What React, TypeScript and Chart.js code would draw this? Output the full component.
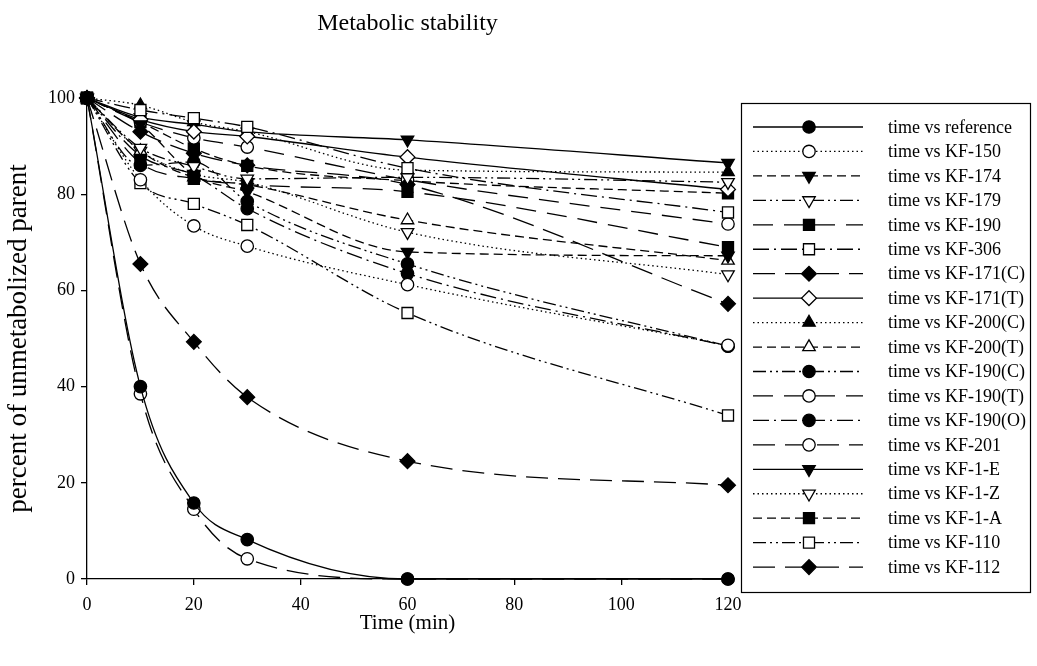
import React, { useEffect, useRef } from 'react';
import { Chart, registerables } from 'chart.js';

Chart.register(...registerables);

const times = [0, 10, 20, 30, 60, 120];
const xTicks = [0, 20, 40, 60, 80, 100, 120];
const yTicks = [0, 20, 40, 60, 80, 100];

const seriesLabels = [
  'time vs reference', 'time vs KF-150', 'time vs KF-174', 'time vs KF-179', 'time vs KF-190',
  'time vs KF-306', 'time vs KF-171(C)', 'time vs KF-171(T)', 'time vs KF-200(C)', 'time vs KF-200(T)',
  'time vs KF-190(C)', 'time vs KF-190(T)', 'time vs KF-190(O)', 'time vs KF-201', 'time vs KF-1-E',
  'time vs KF-1-Z', 'time vs KF-1-A', 'time vs KF-110', 'time vs KF-112',
];

const reference = [100, 40, 15.8, 8.2, 0, 0];
const kf150 = [100, 83, 73.4, 69.2, 61.2, 48.6];
const kf174 = [100, 94.5, 84, 80.5, 68, 67.2];
const kf179 = [100, 89.6, 85.8, 83.2, 83.5, 82.5];
const kf190 = [100, 86.5, 83.2, 82, 80.5, 69];
const kf306 = [100, 97.5, 95.8, 94, 85.4, 76.2];
const kf171C = [100, 93, 88.5, 86, 82, 57.2];
const kf171T = [100, 95.5, 93, 92, 87.7, 81];
const kf200C = [100, 98.5, 95, 93, 85, 84.6];
const kf200T = [100, 89, 83.5, 82, 74.6, 66.2];
const kf190C = [100, 86, 86.7, 78.5, 65.5, 48.4];
const kf190T = [100, 95, 91.7, 89.8, 83, 73.8];
const kf190O = [100, 88, 84, 77, 63.5, 48.4];
const kf201 = [100, 38.5, 14.5, 4.2, 0, 0];
const kf1E = [100, 96, 94.5, 93, 91.3, 86.5];
const kf1Z = [100, 89, 84.2, 82.5, 72.1, 63.3];
const kf1A = [100, 95, 89.5, 85.9, 82.8, 80.2];
const kf110 = [100, 82.3, 78, 73.6, 55.3, 34];
const kf112 = [100, 65.5, 49.3, 37.8, 24.5, 19.5];

const seriesValues = [
  reference, kf150, kf174, kf179, kf190, kf306, kf171C, kf171T, kf200C, kf200T,
  kf190C, kf190T, kf190O, kf201, kf1E, kf1Z, kf1A, kf110, kf112,
];

// styles
const SOLID: number[] = [];
const DOT = [1.5, 3];
const DASH = [9, 5];
const DASHDOTDOT = [13, 4, 2, 4, 2, 4];
const LONGDASH = [20, 11];
const DASHDOT = [16, 5, 2, 5];
const LONGDASH2 = [22, 10];

type Marker = { shape: 'circle' | 'triUp' | 'triDown' | 'square' | 'diamond'; filled: boolean };
const markers: Marker[] = [
  { shape: 'circle', filled: true },
  { shape: 'circle', filled: false },
  { shape: 'triDown', filled: true },
  { shape: 'triDown', filled: false },
  { shape: 'square', filled: true },
  { shape: 'square', filled: false },
  { shape: 'diamond', filled: true },
  { shape: 'diamond', filled: false },
  { shape: 'triUp', filled: true },
  { shape: 'triUp', filled: false },
  { shape: 'circle', filled: true },
  { shape: 'circle', filled: false },
  { shape: 'circle', filled: true },
  { shape: 'circle', filled: false },
  { shape: 'triDown', filled: true },
  { shape: 'triDown', filled: false },
  { shape: 'square', filled: true },
  { shape: 'square', filled: false },
  { shape: 'diamond', filled: true },
];
const dashes = [
  SOLID, DOT, DASH, DASHDOTDOT, LONGDASH, DASHDOT, LONGDASH2,
  SOLID, DOT, DASH, DASHDOTDOT, LONGDASH, DASHDOT, LONGDASH2,
  SOLID, DOT, DASH, DASHDOTDOT, LONGDASH2,
];

const FONT = '"Liberation Serif", "Times New Roman", Times, serif';

function styleFor(m: Marker) {
  switch (m.shape) {
    case 'circle': return { pointStyle: 'circle', radius: 6.2, rotation: 0 };
    case 'triUp': return { pointStyle: 'triangle', radius: 7.2, rotation: 0 };
    case 'triDown': return { pointStyle: 'triangle', radius: 7.2, rotation: 180 };
    case 'square': return { pointStyle: 'rect', radius: 7.8, rotation: 0 };
    case 'diamond': return { pointStyle: 'rectRot', radius: 7.4, rotation: 0 };
  }
}

function drawMarker(ctx: CanvasRenderingContext2D, m: Marker, x: number, y: number) {
  const s = styleFor(m)!;
  const r = s.radius;
  ctx.beginPath();
  if (m.shape === 'circle') {
    ctx.arc(x, y, r, 0, Math.PI * 2);
  } else if (m.shape === 'triUp' || m.shape === 'triDown') {
    const sgn = m.shape === 'triUp' ? 1 : -1;
    ctx.moveTo(x, y - sgn * r);
    ctx.lineTo(x + Math.sin((2 * Math.PI) / 3) * r, y + sgn * r / 2);
    ctx.lineTo(x - Math.sin((2 * Math.PI) / 3) * r, y + sgn * r / 2);
    ctx.closePath();
  } else if (m.shape === 'square') {
    const h = Math.SQRT1_2 * r;
    ctx.rect(x - h, y - h, 2 * h, 2 * h);
  } else {
    ctx.moveTo(x - r, y);
    ctx.lineTo(x, y - r);
    ctx.lineTo(x + r, y);
    ctx.lineTo(x, y + r);
    ctx.closePath();
  }
  ctx.fillStyle = m.filled ? '#000' : '#fff';
  ctx.fill();
  ctx.lineWidth = 1.3;
  ctx.strokeStyle = '#000';
  ctx.stroke();
}

const boxLegend = {
  id: 'boxLegend',
  afterDraw(chart: any) {
    const ctx: CanvasRenderingContext2D = chart.ctx;
    ctx.save();
    ctx.setLineDash([]);
    ctx.lineWidth = 1.2;
    ctx.strokeStyle = '#000';
    ctx.strokeRect(741.5, 103.5, 289, 489);
    chart.data.datasets.forEach((ds: any, i: number) => {
      const y = 127 + i * 24.45;
      ctx.beginPath();
      ctx.lineWidth = 1.3;
      ctx.setLineDash(ds.borderDash || []);
      ctx.moveTo(753, y);
      ctx.lineTo(863, y);
      ctx.stroke();
      ctx.setLineDash([]);
      drawMarker(ctx, markers[i], 809, y);
      ctx.fillStyle = '#000';
      ctx.font = `18px ${FONT}`;
      ctx.textBaseline = 'middle';
      ctx.textAlign = 'left';
      ctx.fillText(ds.label, 888, y + 1);
    });
    ctx.restore();
  },
};

export default function App() {
  const ref = useRef<HTMLCanvasElement>(null);
  useEffect(() => {
    const datasets = seriesLabels.map((label, i) => {
      const s = styleFor(markers[i])!;
      return {
        label,
        data: times.map((t, j) => ({ x: t, y: seriesValues[i][j] })),
        borderColor: '#000',
        borderWidth: 1.3,
        borderDash: dashes[i],
        pointStyle: s.pointStyle,
        pointRadius: s.radius,
        pointRotation: s.rotation,
        pointBackgroundColor: markers[i].filled ? '#000' : '#fff',
        pointBorderColor: '#000',
        pointBorderWidth: 1.3,
        cubicInterpolationMode: 'monotone',
        fill: false,
        clip: false,
      };
    });
    const chart = new Chart(ref.current!, {
      type: 'line',
      data: { datasets } as any,
      plugins: [boxLegend],
      options: {
        animation: false,
        responsive: false,
        events: [],
        layout: { padding: { left: 0, right: 309, top: 0, bottom: 0 } },
        plugins: {
          legend: { display: false },
          tooltip: { enabled: false },
          title: {
            display: true,
            text: 'Metabolic stability',
            fullSize: false,
            color: '#000',
            font: { family: FONT, size: 24, weight: 'normal' },
            padding: { top: 9, bottom: 60.2 },
          },
        },
        scales: {
          x: {
            type: 'linear',
            min: 0,
            max: 120,
            afterBuildTicks: (s: any) => { s.ticks = xTicks.map((v) => ({ value: v })); },
            afterFit: (s: any) => { s.height = 87; },
            ticks: { color: '#000', font: { family: FONT, size: 18 }, padding: 9, maxRotation: 0 },
            grid: { drawOnChartArea: false, drawTicks: true, tickLength: 6, color: '#000', lineWidth: 1.3 },
            border: { display: true, color: '#000', width: 1.3 },
            title: {
              display: true,
              text: 'Time (min)',
              color: '#000',
              font: { family: FONT, size: 21 },
              padding: { top: 0, bottom: 30 },
            },
          },
          y: {
            type: 'linear',
            min: 0,
            max: 100,
            afterBuildTicks: (s: any) => { s.ticks = yTicks.map((v) => ({ value: v })); },
            afterFit: (s: any) => { s.width = 87; },
            ticks: { color: '#000', font: { family: FONT, size: 18 }, padding: 6 },
            grid: { drawOnChartArea: false, drawTicks: true, tickLength: 6, color: '#000', lineWidth: 1.3 },
            border: { display: true, color: '#000', width: 1.3 },
            title: {
              display: true,
              text: 'percent of unmetabolized parent',
              color: '#000',
              font: { family: FONT, size: 27 },
              padding: { top: 3, bottom: 0 },
            },
          },
        },
      } as any,
    });
    return () => chart.destroy();
  }, []);
  return (
    <div style={{ position: 'fixed', left: 0, top: 0, width: 1037, height: 666, background: '#fff' }}>
      <canvas ref={ref} width={1037} height={666} style={{ width: 1037, height: 666, display: 'block' }} />
    </div>
  );
}
